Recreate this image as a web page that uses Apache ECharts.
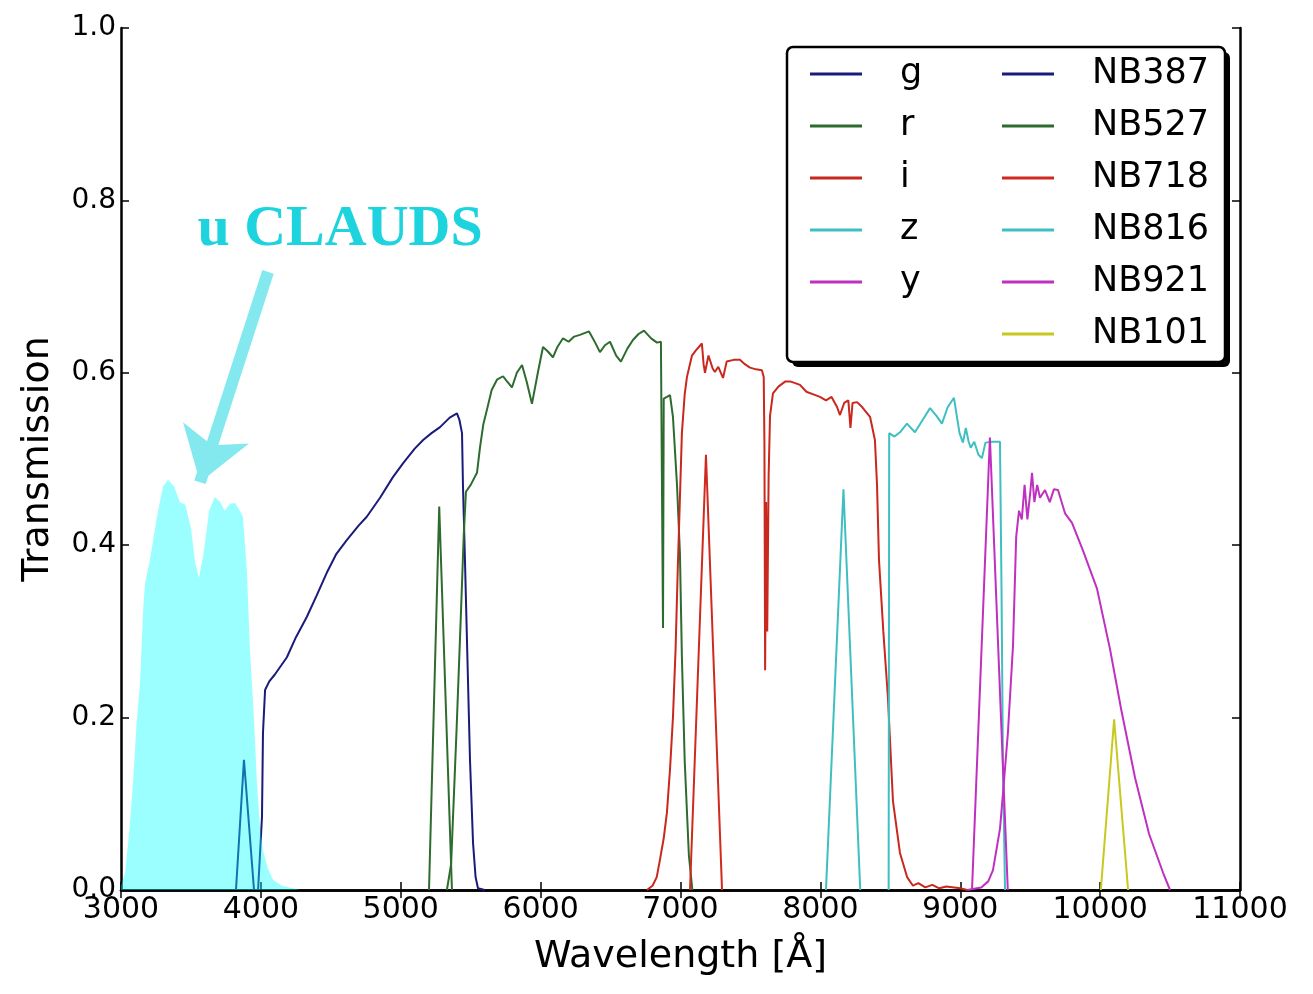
<!DOCTYPE html>
<html><head><meta charset="utf-8">
<script src="https://cdn.jsdelivr.net/npm/echarts@6/dist/echarts.min.js"></script>
<style>html,body{margin:0;padding:0;background:#fff}#c{width:1313px;height:994px}</style>
</head><body><div id="c"></div><script>
// ---- data: [wavelength (Å), transmission] ----
const uClauds = [[3000,0.005],[3030,0.02],[3060,0.07],[3086,0.124],[3110,0.19],[3136,0.24],[3160,0.33],[3172,0.356],[3207,0.383],[3257,0.433],[3300,0.468],[3336,0.476],[3380,0.468],[3420,0.45],[3460,0.447],[3500,0.42],[3530,0.38],[3557,0.362],[3590,0.39],[3630,0.44],[3670,0.456],[3710,0.45],[3740,0.44],[3780,0.448],[3815,0.449],[3850,0.44],[3872,0.433],[3900,0.37],[3922,0.278],[3950,0.2],[3972,0.124],[3995,0.07],[4015,0.046],[4050,0.025],[4087,0.012],[4150,0.005],[4280,0.0]];
const nb387 = [[3822,0],[3879,0.151],[3951,0]];
const gBand = [[3980,0],[4008,0.085],[4015,0.182],[4030,0.232],[4060,0.242],[4100,0.25],[4186,0.27],[4250,0.293],[4329,0.317],[4400,0.342],[4471,0.368],[4540,0.39],[4614,0.406],[4700,0.423],[4757,0.433],[4852,0.455],[4944,0.479],[5016,0.495],[5100,0.512],[5160,0.522],[5220,0.53],[5281,0.537],[5350,0.548],[5402,0.553],[5420,0.545],[5438,0.53],[5445,0.468],[5459,0.383],[5474,0.286],[5495,0.151],[5517,0.054],[5535,0.015],[5552,0.002],[5600,0]];
const nb527 = [[5202,0],[5275,0.445],[5366,0]];
const rBand = [[5330,0],[5360,0.03],[5400,0.19],[5430,0.32],[5450,0.41],[5466,0.462],[5500,0.47],[5545,0.484],[5567,0.514],[5590,0.54],[5616,0.557],[5650,0.58],[5688,0.592],[5731,0.596],[5760,0.59],[5795,0.583],[5830,0.6],[5867,0.609],[5900,0.59],[5938,0.564],[5980,0.6],[6017,0.63],[6050,0.625],[6088,0.618],[6120,0.63],[6160,0.64],[6200,0.636],[6240,0.642],[6281,0.644],[6346,0.648],[6390,0.635],[6424,0.624],[6460,0.632],[6496,0.636],[6540,0.62],[6574,0.613],[6620,0.628],[6660,0.638],[6700,0.645],[6739,0.649],[6790,0.64],[6832,0.635],[6860,0.636],[6872,0.636],[6875,0.304],[6880,0.57],[6903,0.572],[6925,0.574],[6946,0.549],[6975,0.47],[6996,0.39],[7010,0.27],[7030,0.15],[7060,0.04],[7085,0]];
const nb718 = [[7068,0],[7182,0.505],[7297,0]];
const iBand = [[6760,0],[6800,0.005],[6830,0.015],[6853,0.035],[6880,0.06],[6903,0.09],[6925,0.14],[6946,0.2],[6965,0.28],[6980,0.37],[6995,0.45],[7010,0.53],[7030,0.575],[7046,0.595],[7082,0.62],[7110,0.626],[7153,0.634],[7165,0.61],[7175,0.6],[7200,0.62],[7230,0.605],[7246,0.601],[7270,0.607],[7304,0.594],[7330,0.613],[7380,0.615],[7425,0.615],[7460,0.61],[7497,0.606],[7540,0.604],[7582,0.603],[7595,0.595],[7600,0.52],[7605,0.255],[7612,0.45],[7620,0.3],[7630,0.48],[7640,0.55],[7661,0.576],[7700,0.584],[7750,0.59],[7783,0.59],[7820,0.588],[7854,0.586],[7900,0.578],[7950,0.575],[7997,0.572],[8040,0.568],[8080,0.572],[8120,0.56],[8140,0.551],[8170,0.565],[8200,0.568],[8215,0.536],[8230,0.565],[8262,0.566],[8300,0.56],[8355,0.549],[8390,0.522],[8405,0.47],[8419,0.383],[8450,0.3],[8483,0.223],[8519,0.103],[8569,0.043],[8620,0.015],[8662,0.005],[8700,0.008],[8750,0.003],[8800,0.006],[8850,0.002],[8900,0.004],[9000,0.002],[9050,0]];
const nb816 = [[8040,0],[8165,0.465],[8285,0]];
const zBand = [[8488,0],[8492,0.53],[8530,0.526],[8569,0.531],[8619,0.541],[8676,0.531],[8730,0.545],[8784,0.559],[8830,0.55],[8869,0.541],[8910,0.56],[8955,0.571],[8980,0.545],[8995,0.53],[9019,0.519],[9040,0.536],[9060,0.52],[9075,0.513],[9100,0.52],[9130,0.505],[9155,0.501],[9180,0.519],[9230,0.52],[9284,0.52],[9295,0.35],[9305,0.15],[9320,0]];
const nb921 = [[9084,0],[9212,0.525],[9340,0]];
const yBand = [[9050,0],[9150,0.003],[9200,0.01],[9234,0.023],[9284,0.071],[9305,0.111],[9341,0.183],[9377,0.283],[9400,0.41],[9420,0.44],[9440,0.43],[9460,0.47],[9480,0.43],[9500,0.46],[9513,0.484],[9530,0.45],[9550,0.47],[9570,0.455],[9606,0.464],[9640,0.45],[9670,0.465],[9699,0.464],[9749,0.437],[9799,0.426],[9877,0.394],[9977,0.35],[10070,0.28],[10150,0.21],[10250,0.13],[10350,0.065],[10450,0.02],[10500,0]];
const nb101 = [[10005,0],[10100,0.198],[10200,0]];

const broadNames = ['g','r','i','z','y'];
const narrowNames = ['NB387','NB527','NB718','NB816','NB921','NB101'];
const arrowFrom = [4051,0.717];
const arrowTo = [3565,0.473];
const labelAt = [4566,0.766];

const FONT = 'DejaVu Sans';
function line(name, data, color) {
  return {name, type:'line', data, color, showSymbol:false, symbol:'none',
    lineStyle:{width:2, color}, animation:false, silent:true, z:2};
}
const series = [
  line('g', gBand, '#1b1b7a'),
  line('r', rBand, '#2e6b2e'),
  line('i', iBand, '#c8281e'),
  line('z', zBand, '#40bfc0'),
  line('y', yBand, '#c030c0'),
  line('NB387', nb387, '#1b1b7a'),
  line('NB527', nb527, '#2e6b2e'),
  line('NB718', nb718, '#d02a1e'),
  line('NB816', nb816, '#40bfc0'),
  line('NB921', nb921, '#c030c0'),
  line('NB101', nb101, '#c8c820'),
  {name:'u CLAUDS', type:'line', data:uClauds, showSymbol:false, symbol:'none', animation:false, silent:true, z:3,
   lineStyle:{width:0, color:'rgba(0,255,255,0)'}, areaStyle:{color:'rgba(0,255,255,0.56)', origin:0},
   markLine:{silent:true, animation:false, symbol:['none','arrow'], symbolSize:52, symbolOffset:0,
     itemStyle:{color:'#84e9ef'},
     lineStyle:{color:'#84e9ef', width:12, type:'solid'}, label:{show:false},
     data:[[{coord:arrowFrom},{coord:arrowTo}]]},
   markPoint:{silent:true, animation:false, symbol:'circle', symbolSize:0,
     label:{show:true, position:'inside', formatter:'u CLAUDS', fontFamily:'Liberation Serif', fontWeight:'bold', fontSize:58, color:'#1cd3de'},
     data:[{coord:labelAt}]}}
];

const axisLineStyle = {color:'#000', width:2.5};
const tickStyle = {show:true, inside:true, length:8, lineStyle:{color:'#000', width:1.5}};
const legendCommon = {orient:'vertical', top:54, itemWidth:52, itemHeight:3, icon:'rect', itemGap:12, padding:0,
  textStyle:{fontFamily:FONT, fontSize:35, color:'#000', lineHeight:40, padding:[0,0,0,33]}, selectedMode:false};

const chart = echarts.init(document.getElementById('c'), null, {renderer:'canvas'});
chart.setOption({
  backgroundColor:'#fff',
  animation:false,
  grid:{left:121, right:73, top:28, bottom:104},
  xAxis:[
    {type:'value', min:3000, max:11000, interval:1000, position:'bottom',
     name:'Wavelength [Å]', nameLocation:'middle', nameGap:48,
     nameTextStyle:{fontFamily:FONT, fontSize:38, color:'#000'},
     axisLine:{show:true, lineStyle:axisLineStyle}, axisTick:tickStyle,
     axisLabel:{fontFamily:FONT, fontSize:30, color:'#000', margin:5, formatter:v=>String(v)}, splitLine:{show:false}},
    {type:'value', min:3000, max:11000, interval:1000, position:'top',
     axisLine:{show:true, lineStyle:axisLineStyle}, axisTick:tickStyle,
     axisLabel:{show:false}, splitLine:{show:false}}
  ],
  yAxis:[
    {type:'value', min:0, max:1, interval:0.2, position:'left',
     name:'Transmission', nameLocation:'middle', nameGap:64, nameRotate:90,
     nameTextStyle:{fontFamily:FONT, fontSize:38, color:'#000'},
     axisLine:{show:true, lineStyle:axisLineStyle}, axisTick:tickStyle,
     axisLabel:{fontFamily:FONT, fontSize:28, color:'#000', margin:5, formatter:v=>v.toFixed(1)}, splitLine:{show:false}},
    {type:'value', min:0, max:1, interval:0.2, position:'right',
     axisLine:{show:true, lineStyle:axisLineStyle}, axisTick:tickStyle,
     axisLabel:{show:false}, splitLine:{show:false}}
  ],
  legend:[
    Object.assign({}, legendCommon, {left:810, data:broadNames}),
    Object.assign({}, legendCommon, {left:1002, data:narrowNames})
  ],
  graphic:[
    {type:'rect', z:3, shape:{x:792, y:52, width:438, height:315, r:6}, style:{fill:'#000'}},
    {type:'rect', z:3, shape:{x:787, y:47, width:438, height:315, r:6}, style:{fill:'#fff', stroke:'#000', lineWidth:2.5}}
  ],
  series
});
</script></body></html>
